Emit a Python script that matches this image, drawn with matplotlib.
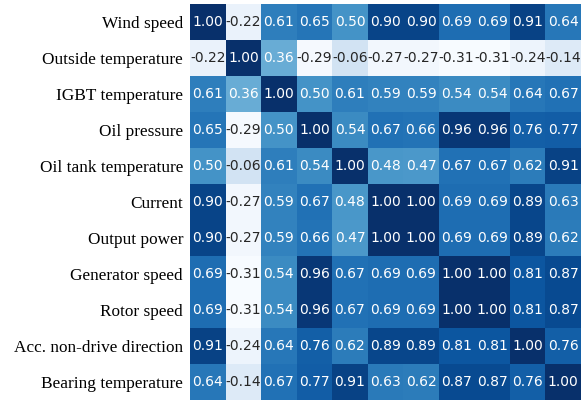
import numpy as np
import matplotlib
matplotlib.use("Agg")
import matplotlib.pyplot as plt
import seaborn as sns

labels = ["Wind speed", "Outside temperature", "IGBT temperature", "Oil pressure",
          "Oil tank temperature", "Current", "Output power", "Generator speed",
          "Rotor speed", "Acc. non-drive direction", "Bearing temperature"]

row_wind = [1.00, -0.22, 0.61, 0.65, 0.50, 0.90, 0.90, 0.69, 0.69, 0.91, 0.64]
row_outside = [-0.22, 1.00, 0.36, -0.29, -0.06, -0.27, -0.27, -0.31, -0.31, -0.24, -0.14]
row_igbt = [0.61, 0.36, 1.00, 0.50, 0.61, 0.59, 0.59, 0.54, 0.54, 0.64, 0.67]
row_oilp = [0.65, -0.29, 0.50, 1.00, 0.54, 0.67, 0.66, 0.96, 0.96, 0.76, 0.77]
row_oilt = [0.50, -0.06, 0.61, 0.54, 1.00, 0.48, 0.47, 0.67, 0.67, 0.62, 0.91]
row_current = [0.90, -0.27, 0.59, 0.67, 0.48, 1.00, 1.00, 0.69, 0.69, 0.89, 0.63]
row_power = [0.90, -0.27, 0.59, 0.66, 0.47, 1.00, 1.00, 0.69, 0.69, 0.89, 0.62]
row_gen = [0.69, -0.31, 0.54, 0.96, 0.67, 0.69, 0.69, 1.00, 1.00, 0.81, 0.87]
row_rotor = [0.69, -0.31, 0.54, 0.96, 0.67, 0.69, 0.69, 1.00, 1.00, 0.81, 0.87]
row_acc = [0.91, -0.24, 0.64, 0.76, 0.62, 0.89, 0.89, 0.81, 0.81, 1.00, 0.76]
row_bearing = [0.64, -0.14, 0.67, 0.77, 0.91, 0.63, 0.62, 0.87, 0.87, 0.76, 1.00]

corr = np.array([row_wind, row_outside, row_igbt, row_oilp, row_oilt, row_current,
                 row_power, row_gen, row_rotor, row_acc, row_bearing])

W, H = 581, 401
fig = plt.figure(figsize=(W / 100, H / 100), dpi=100)
ax = fig.add_axes([190 / W, 1 - 400 / H, 391 / W, 396 / H])
sns.heatmap(corr, ax=ax, cmap="Blues", annot=True, fmt=".2f", cbar=False,
            annot_kws={"fontsize": 10, "family": "DejaVu Sans"})
ax.set_xticks([])
ax.set_yticks(np.arange(len(labels)) + 0.5)
ax.set_yticklabels(labels, rotation=0, family="Liberation Serif", fontsize=12.4,
                   va="center_baseline")
ax.tick_params(axis="y", length=0, pad=5)
fig.savefig("out.png", dpi=100)
